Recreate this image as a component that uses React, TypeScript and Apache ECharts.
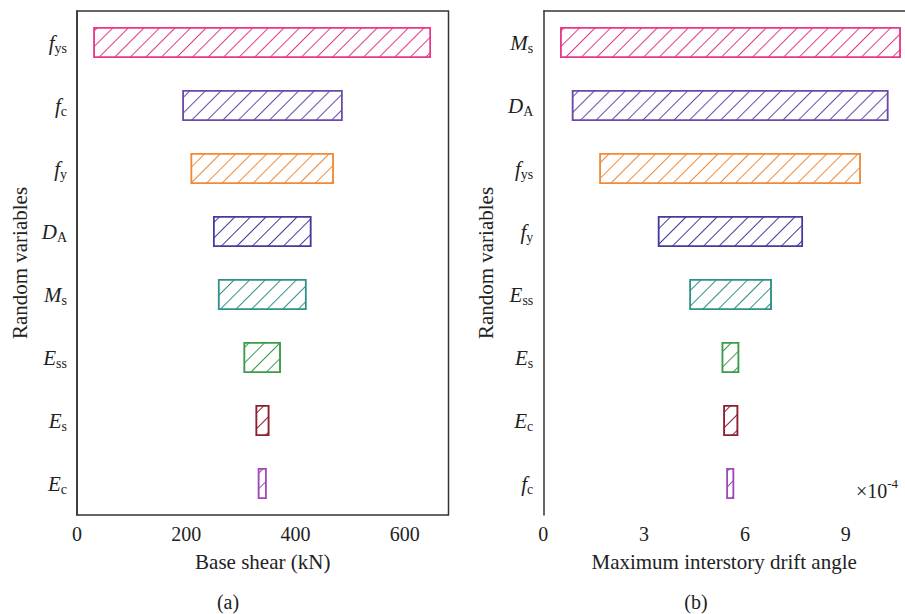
import React, { useEffect, useRef } from "react";
import * as echarts from "echarts";

const catsA = ["f_ys", "f_c", "f_y", "D_A", "M_s", "E_ss", "E_s", "E_c"];
const lowA = [30, 193, 208, 249, 258, 305, 327, 331];
const highA = [648, 486, 470, 429, 420, 373, 352, 347];

const catsB = ["M_s", "D_A", "f_ys", "f_y", "E_ss", "E_s", "E_c", "f_c"];
const lowB = [0.5, 0.85, 1.67, 3.41, 4.35, 5.31, 5.36, 5.45];
const highB = [10.64, 10.27, 9.45, 7.73, 6.8, 5.83, 5.8, 5.68];

const palette = ["#e8378a", "#6a4aa8", "#f08a3a", "#433c9e", "#2e9188", "#3c9a48", "#8c1f2e", "#a04ab8"];

const FONT = "Liberation Serif";

function catLabel(v: string) {
  const [m, s] = v.split("_");
  return `{i|${m}}{s|${s}}`;
}

const rich = {
  i: { fontFamily: FONT, fontStyle: "italic", fontSize: 21, color: "#222", verticalAlign: "middle" },
  s: { fontFamily: FONT, fontSize: 14, color: "#222", padding: [11, 0, 0, 0], verticalAlign: "middle" },
};

function rangeData(low: number[], high: number[]) {
  return low.map((l, i) => {
    const c = palette[i];
    return {
      value: +(high[i] - l).toFixed(4),
      itemStyle: {
        color: "#ffffff",
        borderColor: c,
        borderWidth: 1.5,
        decal: {
          symbol: "rect",
          symbolSize: 1,
          dashArrayX: [1, 0],
          dashArrayY: [1, 9.4],
          rotation: -Math.PI / 4,
          color: c,
          backgroundColor: "#ffffff",
        },
      },
    };
  });
}

export default function App() {
  const ref = useRef<HTMLDivElement>(null);
  useEffect(() => {
    const chart = echarts.init(ref.current!, null, { renderer: "svg" });
    const axisLine = { lineStyle: { color: "#333", width: 1.5 } };
    const tick = { inside: true, length: 5, lineStyle: { color: "#333", width: 1.5 } };
    const axisLabelX = { fontFamily: FONT, fontSize: 20, color: "#222", margin: 9, showMaxLabel: false };
    const nameStyle = { fontFamily: FONT, fontSize: 21, color: "#222" };
    const option: any = {
      animation: false,
      backgroundColor: "#ffffff",
      grid: [
        { left: 77, top: 11, width: 371.5, height: 504, show: true, borderColor: "#333", borderWidth: 1.5 },
        { left: 543.3, top: 11, right: 0, height: 504, show: false },
      ],
      xAxis: [
        {
          gridIndex: 0, type: "value", min: 0, max: 680, interval: 200,
          axisLine, axisTick: tick, splitLine: { show: false }, axisLabel: axisLabelX,
          name: "Base shear (kN)", nameLocation: "middle", nameGap: 36, nameTextStyle: nameStyle,
        },
        {
          gridIndex: 1, type: "value", min: 0, max: 10.765, interval: 3,
          axisLine, axisTick: tick, splitLine: { show: false }, axisLabel: axisLabelX,
          name: "Maximum interstory drift angle", nameLocation: "middle", nameGap: 36, nameTextStyle: nameStyle,
        },
      ],
      yAxis: [
        {
          gridIndex: 0, type: "category", data: catsA, inverse: true,
          axisLine, axisTick: { ...tick, alignWithLabel: true },
          axisLabel: { formatter: catLabel, rich, margin: 10 },
          name: "Random variables", nameLocation: "middle", nameGap: 47, nameTextStyle: nameStyle,
        },
        {
          gridIndex: 1, type: "category", data: catsB, inverse: true,
          axisLine, axisTick: { ...tick, alignWithLabel: true },
          axisLabel: { formatter: catLabel, rich, margin: 10 },
          name: "Random variables", nameLocation: "middle", nameGap: 47, nameTextStyle: nameStyle,
        },
      ],
      series: [
        {
          type: "bar", xAxisIndex: 0, yAxisIndex: 0, stack: "a", data: lowA, barWidth: 31,
          itemStyle: { color: "transparent" }, silent: true,
        },
        {
          type: "bar", xAxisIndex: 0, yAxisIndex: 0, stack: "a", data: rangeData(lowA, highA), barWidth: 31,
        },
        {
          type: "bar", xAxisIndex: 1, yAxisIndex: 1, stack: "b", data: lowB, barWidth: 31,
          itemStyle: { color: "transparent" }, silent: true,
        },
        {
          type: "bar", xAxisIndex: 1, yAxisIndex: 1, stack: "b", data: rangeData(lowB, highB), barWidth: 31,
        },
      ],
      graphic: [
        { type: "line", shape: { x1: 543.3, y1: 11, x2: 905, y2: 11 }, style: { stroke: "#333", lineWidth: 1.5 } },
        { type: "text", x: 228, y: 602, style: { text: "(a)", font: `20px "${FONT}"`, fill: "#222", textAlign: "center", textVerticalAlign: "middle" } },
        { type: "text", x: 696, y: 602, style: { text: "(b)", font: `20px "${FONT}"`, fill: "#222", textAlign: "center", textVerticalAlign: "middle" } },
        {
          type: "text", x: 856, y: 474,
          style: {
            text: "{a|×10}{b|-4}",
            rich: {
              a: { fontFamily: FONT, fontSize: 20, fill: "#222", color: "#222", padding: [7, 0, 0, 0] },
              b: { fontFamily: FONT, fontSize: 13, fill: "#222", color: "#222", padding: [0, 0, 9, 0] },
            },
          },
        },
      ],
    };
    chart.setOption(option);
    return () => chart.dispose();
  }, []);
  return <div ref={ref} style={{ position: "fixed", left: 0, top: 0, width: 905, height: 614 }} />;
}
